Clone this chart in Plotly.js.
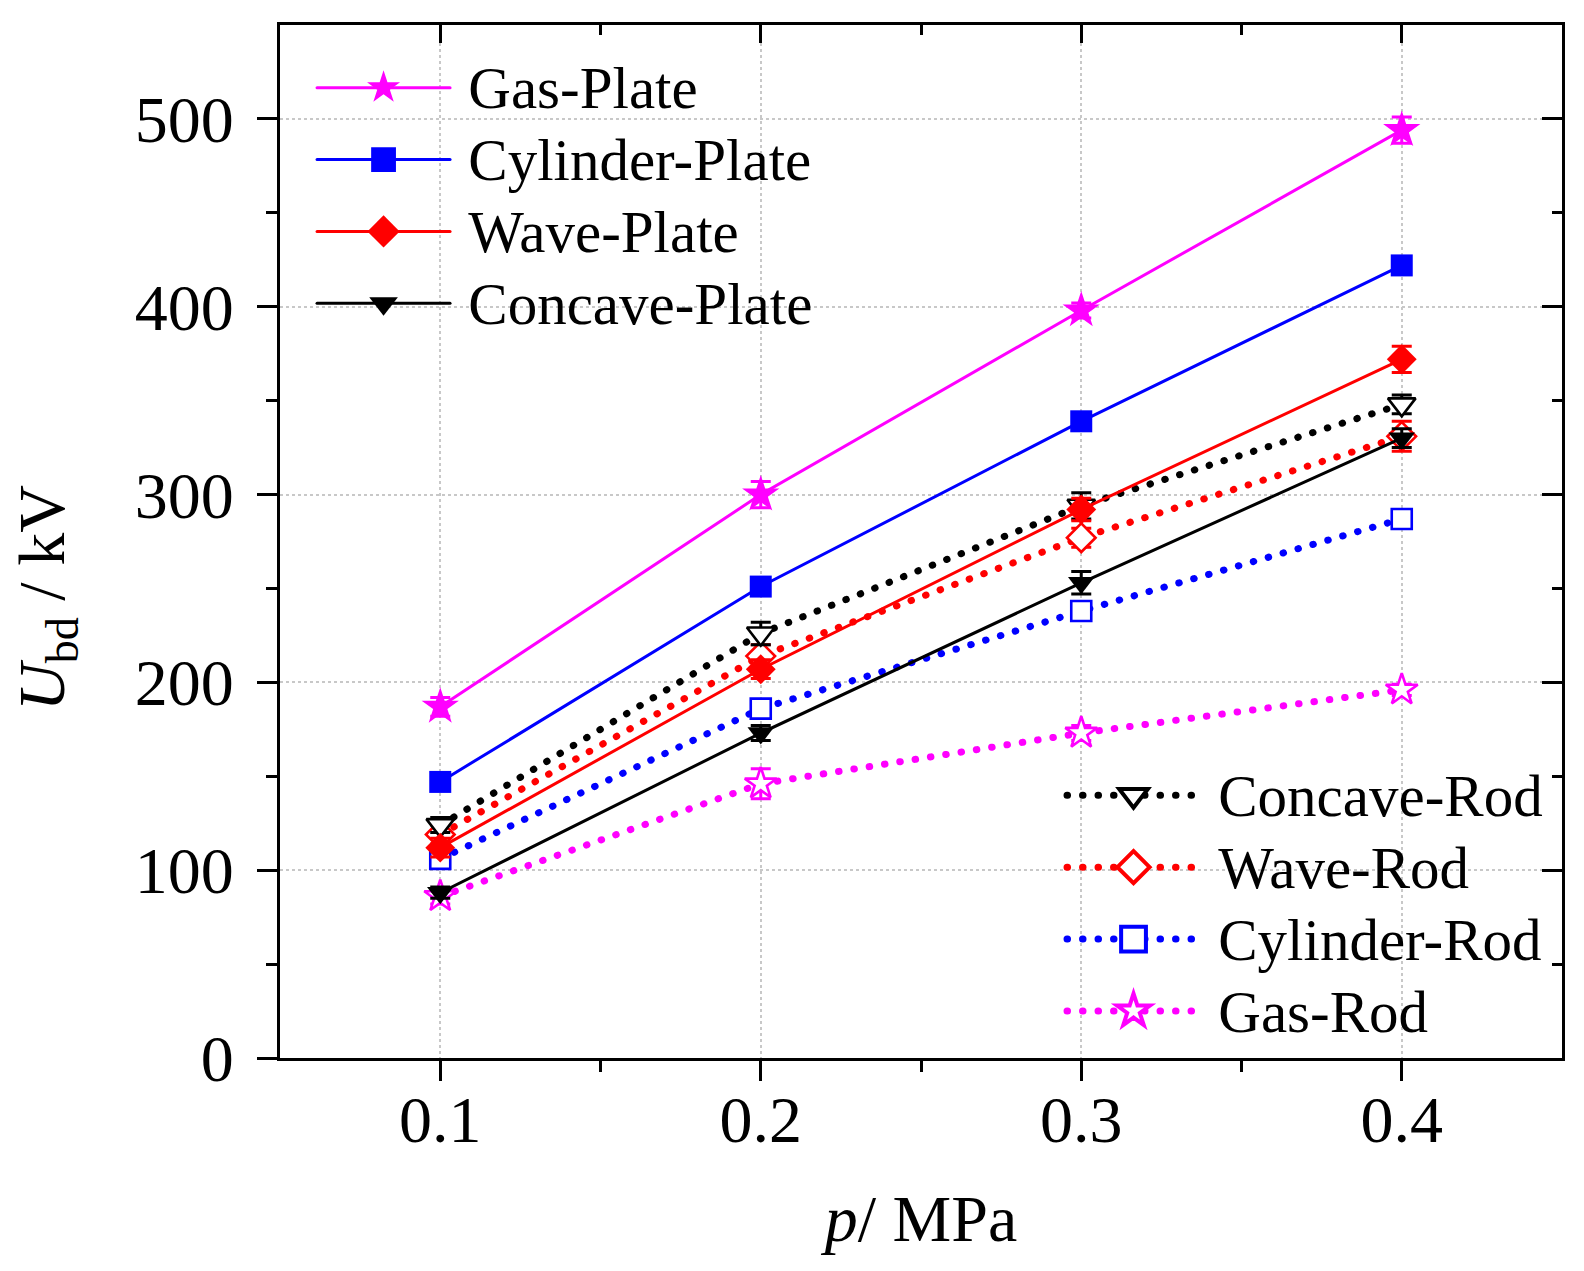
<!DOCTYPE html>
<html>
<head>
<meta charset="utf-8">
<script src="https://cdn.plot.ly/plotly-3.0.1.min.js"></script>
<style>
html, body { margin: 0; padding: 0; background: #fff; }
#chart { width: 1584px; height: 1271px; }
path.js-line { stroke-linecap: round; }
</style>
</head>
<body>
<div id="chart"></div>
<script>
// ---- data ----
const pressure = [0.1, 0.2, 0.3, 0.4];
const xTickVals = [0.1, 0.2, 0.3, 0.4];
const xTickText = ['0.1', '0.2', '0.3', '0.4'];
const yTickVals = [0, 100, 200, 300, 400, 500];
const yTickText = ['0', '100', '200', '300', '400', '500'];

const gasPlate      = [187, 300, 398, 494];
const cylinderPlate = [147, 251, 339, 422];
const wavePlate     = [112, 207, 292, 372];
const concavePlate  = [88, 173, 253, 330];
const concaveRod    = [124, 226, 294, 348];
const waveRod       = [119, 214, 277, 331];
const cylinderRod   = [106, 186, 238, 287];
const gasRod        = [86, 146, 173, 196];

const gasPlateErr      = [5, 7, 4, 7];
const cylinderPlateErr = [3, 3, 3, 3];
const wavePlateErr     = [5, 5, 6, 7];
const concavePlateErr  = [3, 4, 6, 5];
const concaveRodErr    = [4, 6, 7, 5];
const waveRodErr       = [5, 6, 5, 8];
const cylinderRodErr   = [3, 3, 3, 3];
const gasRodErr        = [4, 8, 4, 3];

const FONT = 'Liberation Serif, Times New Roman, serif';
const DOT = '0.5px,15px';

function label(name) {
  return '\u00a0<span style="font-size:59px">' + name + '</span>';
}

function plateTrace(name, y, err, color, symbol, size, rank) {
  return {
    x: pressure, y: y, name: label(name), type: 'scatter', mode: 'lines+markers',
    line: { color: color, width: 3 },
    marker: { color: color, symbol: symbol, size: size, line: { width: 0 } },
    error_y: { type: 'data', array: err, visible: true, color: color, thickness: 3, width: 10 },
    legend: 'legend', legendrank: rank
  };
}
function rodTrace(name, y, err, color, symbol, size, rank) {
  return {
    x: pressure, y: y, name: label(name), type: 'scatter', mode: 'lines+markers',
    line: { color: color, width: 7, dash: DOT },
    marker: { color: '#ffffff', symbol: symbol, size: size, line: { color: color, width: 2.6 } },
    error_y: { type: 'data', array: err, visible: true, color: color, thickness: 3, width: 10 },
    legend: 'legend2', legendrank: rank
  };
}

const data = [
  rodTrace('Gas-Rod', gasRod, gasRodErr, '#ff00ff', 'star', 24, 4),
  rodTrace('Cylinder-Rod', cylinderRod, cylinderRodErr, '#0000ff', 'square', 20, 3),
  rodTrace('Wave-Rod', waveRod, waveRodErr, '#ff0000', 'diamond', 22, 2),
  rodTrace('Concave-Rod', concaveRod, concaveRodErr, '#000000', 'triangle-down', 24, 1),
  plateTrace('Concave-Plate', concavePlate, concavePlateErr, '#000000', 'triangle-down', 23, 4),
  plateTrace('Wave-Plate', wavePlate, wavePlateErr, '#ff0000', 'diamond', 23, 3),
  plateTrace('Cylinder-Plate', cylinderPlate, cylinderPlateErr, '#0000ff', 'square', 22, 2),
  plateTrace('Gas-Plate', gasPlate, gasPlateErr, '#ff00ff', 'star', 28, 1),
  { x: pressure, y: pressure.map(() => null), xaxis: 'x2', yaxis: 'y2', type: 'scatter',
    mode: 'markers', showlegend: false, hoverinfo: 'skip' }
];

const axisCommon = {
  showline: true, linecolor: '#000', linewidth: 3, zeroline: false,
  tickcolor: '#000', tickwidth: 3, ticklen: 20,
  tickfont: { family: FONT, size: 66, color: '#000' }
};

const layout = {
  width: 1584, height: 1271,
  margin: { l: 280, r: 22, t: 25, b: 213 },
  paper_bgcolor: '#fff', plot_bgcolor: '#fff',
  font: { family: FONT, color: '#000' },
  showlegend: true,
  xaxis: Object.assign({}, axisCommon, {
    range: [0.05, 0.45], tickmode: 'array', tickvals: xTickVals, ticktext: xTickText,
    ticks: 'outside', ticklabelstandoff: -18,
    showgrid: true, gridcolor: '#c8c8c8', gridwidth: 2, griddash: 'dot',
    minor: { tickmode: 'array', tickvals: [0.15, 0.25, 0.35], ticks: 'outside', ticklen: 11, tickwidth: 3, tickcolor: '#000', showgrid: false },
    title: { text: '<i>p</i>/ MPa', font: { family: FONT, size: 66, color: '#000' }, standoff: 40 }
  }),
  yaxis: Object.assign({}, axisCommon, {
    range: [0, 550], tickmode: 'array', tickvals: yTickVals, ticktext: yTickText,
    ticks: 'outside', ticklabelstandoff: 10,
    showgrid: true, gridcolor: '#c8c8c8', gridwidth: 2, griddash: 'dot',
    minor: { tickmode: 'array', tickvals: [50, 150, 250, 350, 450], ticks: 'outside', ticklen: 11, tickwidth: 3, tickcolor: '#000', showgrid: false }
  }),
  xaxis2: Object.assign({}, axisCommon, {
    overlaying: 'x', side: 'top', anchor: 'y2', range: [0.05, 0.45],
    tickmode: 'array', tickvals: xTickVals, ticks: 'inside', showticklabels: false, showgrid: false,
    ticklen: 18,
    minor: { tickmode: 'array', tickvals: [0.15, 0.25, 0.35], ticks: 'inside', ticklen: 10, tickwidth: 3, tickcolor: '#000', showgrid: false }
  }),
  yaxis2: Object.assign({}, axisCommon, {
    overlaying: 'y', side: 'right', anchor: 'x2', range: [0, 550],
    tickmode: 'array', tickvals: yTickVals, ticks: 'inside', showticklabels: false, showgrid: false,
    minor: { tickmode: 'array', tickvals: [50, 150, 250, 350, 450], ticks: 'inside', ticklen: 10, tickwidth: 3, tickcolor: '#000', showgrid: false }
  }),
  annotations: [{
    xref: 'paper', yref: 'paper', x: -0.182, y: 0.445, xanchor: 'center', yanchor: 'middle',
    textangle: -90, showarrow: false, borderpad: 0,
    text: '<i>U</i><sub>bd</sub> / kV', font: { family: FONT, size: 66, color: '#000' }
  }],
  legend: {
    x: 0.025, y: 0.979, xanchor: 'left', yanchor: 'top',
    bgcolor: 'rgba(0,0,0,0)', borderwidth: 0, itemwidth: 133,
    font: { family: FONT, size: 53, color: '#000' }, tracegroupgap: 0,
    traceorder: 'normal'
  },
  legend2: {
    x: 0.61, y: 0.294, xanchor: 'left', yanchor: 'top',
    bgcolor: 'rgba(0,0,0,0)', borderwidth: 0, itemwidth: 133,
    font: { family: FONT, size: 53, color: '#000' }, tracegroupgap: 0,
    traceorder: 'normal'
  }
};

Plotly.newPlot('chart', data, layout, { displayModeBar: false, staticPlot: true }).then(function (gd) {
  // enlarge the legend marker glyphs (Plotly caps them at 16px)
  gd.querySelectorAll('.legendpoints path.scatterpts').forEach(function (p) {
    var t = p.getAttribute('transform') || '';
    p.setAttribute('transform', t + ' scale(1.55)');
  });
});
</script>
</body>
</html>
